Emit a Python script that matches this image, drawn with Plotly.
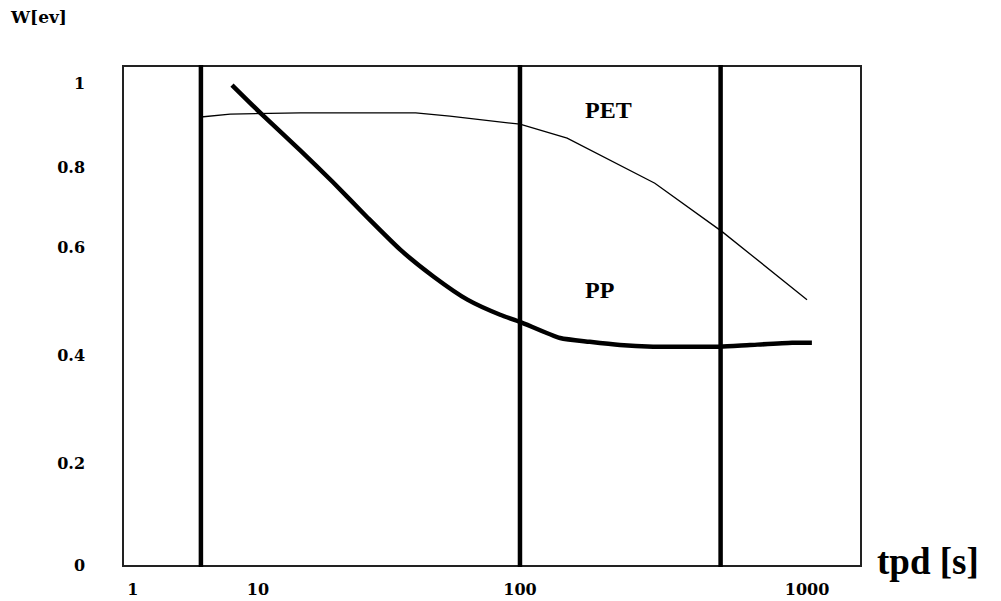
import numpy as np
import plotly.graph_objects as go

# Axis tick values
TPD_TICKS = [1, 10, 100, 1000]
TPD_TICK_TEXT = ["1", "10", "100", "1000"]
W_TICKS = [0, 0.2, 0.4, 0.6, 0.8, 1.0]
W_TICK_TEXT = ["0", "0.2", "0.4", "0.6", "0.8", "1"]

# PET curve: time (s) and W (eV)
PET_T = [3.5, 6, 14.5, 40, 54, 72, 100, 146, 295, 506, 1000]
PET_W = [0.919, 0.926, 0.929, 0.929, 0.921, 0.912, 0.902, 0.869, 0.760, 0.640, 0.504]

# PP curve: time (s) and W (eV)
PP_T = [6.2, 10.4, 14.5, 19.3, 26, 35, 47, 63, 84, 100, 138, 175, 223, 291, 352, 497, 633, 887, 1040]
PP_W = [0.995, 0.924, 0.840, 0.763, 0.677, 0.596, 0.546, 0.504, 0.476, 0.463,
        0.433, 0.426, 0.420, 0.417, 0.417, 0.417, 0.420, 0.424, 0.424]

# Reference times marked by vertical bars (s)
MARK_T = [3.5, 100, 500]

# Curve labels: (text, t, W)
LABELS = [("PET", 203, 0.936), ("PP", 190, 0.522)]

# The hand-drawn scales are uneven: where each tick sits along its axis (0..1)
TPD_TICK_POS = [0.012, 0.182, 0.538, 0.928]
W_TICK_POS = [0.0, 0.205, 0.420, 0.637, 0.799, 0.968]


def piecewise(v, src, dst):
    v = np.atleast_1d(np.asarray(v, dtype=float))
    src = np.asarray(src, dtype=float)
    dst = np.asarray(dst, dtype=float)
    out = np.interp(v, src, dst)
    lo = v < src[0]
    hi = v > src[-1]
    out[lo] = dst[0] + (v[lo] - src[0]) * (dst[1] - dst[0]) / (src[1] - src[0])
    out[hi] = dst[-1] + (v[hi] - src[-1]) * (dst[-1] - dst[-2]) / (src[-1] - src[-2])
    return out


def x_pos(t):
    return piecewise(np.log10(t), np.log10(TPD_TICKS), TPD_TICK_POS)


def y_pos(w):
    return piecewise(w, W_TICKS, W_TICK_POS)


fig = go.Figure()

fig.add_trace(go.Scatter(
    x=x_pos(PET_T), y=y_pos(PET_W), mode="lines",
    line=dict(color="black", width=1.3), name="PET", hoverinfo="skip",
))
fig.add_trace(go.Scatter(
    x=x_pos(PP_T), y=y_pos(PP_W), mode="lines",
    line=dict(color="black", width=4.5, shape="spline", smoothing=0.6),
    name="PP", hoverinfo="skip",
))

for xm in x_pos(MARK_T):
    fig.add_shape(type="line", xref="x", yref="paper", x0=xm, x1=xm, y0=-0.004, y1=1.004,
                  line=dict(color="black", width=4.5), layer="above")

for text, t, w in LABELS:
    fig.add_annotation(x=float(x_pos(t)[0]), y=float(y_pos(w)[0]), text=text, showarrow=False,
                       font=dict(family="Liberation Serif", size=24, color="black", weight="bold"))

fig.add_annotation(xref="paper", yref="paper", x=-0.157, y=1.100, xanchor="left", yanchor="middle",
                   text="W[ev]", showarrow=False,
                   font=dict(family="DejaVu Serif", size=17, color="black", weight="bold"))
fig.add_annotation(xref="paper", yref="paper", x=1.020, y=0.008, xanchor="left", yanchor="middle",
                   text="tpd [s]", showarrow=False,
                   font=dict(family="Liberation Serif", size=37, color="black", weight="bold"))

tick_font = dict(family="DejaVu Serif", size=16, color="black", weight="bold")

fig.update_layout(
    width=1001, height=601,
    margin=dict(l=124, r=141, t=67, b=36),
    paper_bgcolor="white", plot_bgcolor="white",
    showlegend=False,
    xaxis=dict(
        range=[0, 1], tickmode="array", tickvals=x_pos(TPD_TICKS), ticktext=TPD_TICK_TEXT,
        showgrid=False, zeroline=False, showline=True, mirror=True, automargin=False,
        linecolor="#222", linewidth=1.5, ticks="", ticklabelstandoff=9, tickfont=tick_font,
    ),
    yaxis=dict(
        range=[0, 1], tickmode="array", tickvals=y_pos(W_TICKS), ticktext=W_TICK_TEXT,
        showgrid=False, zeroline=False, showline=True, mirror=True, automargin=False,
        linecolor="#222", linewidth=1.5, ticks="", ticklabelstandoff=34, tickfont=tick_font,
    ),
)

fig.write_html("out.html")
